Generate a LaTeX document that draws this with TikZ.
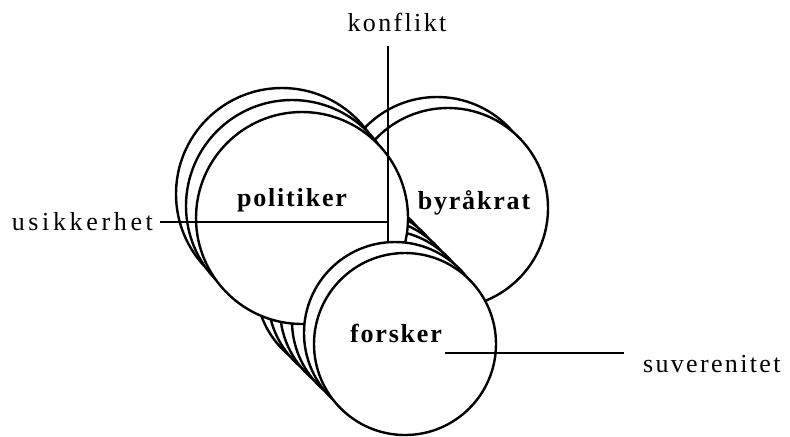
\documentclass[tikz,border=0pt]{standalone}
\usepackage{fontspec}
\setmainfont{Liberation Serif}
\usetikzlibrary{positioning}

\begin{document}
\begin{tikzpicture}[x=0.5pt,y=-0.5pt,
      ring/.style={draw=black,line width=1.2pt,fill=white},
      rolle/.style={font=\fontsize{13}{15}\selectfont\bfseries\addfontfeatures{LetterSpace=7}},
      tema/.style={font=\fontsize{13}{15}\selectfont\addfontfeatures{LetterSpace=9}},
      strek/.style={line width=1.2pt}]
    \useasboundingbox (0,0) rectangle (790,436);
    % byråkrat-bunken
    \foreach \k in {1,0}
      \draw[ring] ({448-11*\k},{208-11*\k}) circle (100);
    % forskerne bak
    \foreach \k in {5,4,3,2}
      \draw[ring] ({395-12*(\k-1)},{333-12*(\k-1)}) circle (91);
    % politiker-bunken
    \foreach \k in {2,1,0}
      \draw[ring] ({302-10*\k},{218-12*\k}) circle (106);
    \node[tema] (kon) at (397,22) {konflikt};
    \node[tema,anchor=east,
          font=\fontsize{13}{15}\selectfont\addfontfeatures{LetterSpace=14}] (usi) at (160,222) {usikkerhet};
    \coordinate (kfot) at (388,243);
    \draw[strek] ([yshift=-4pt]kon.south -| kfot) -- (kfot);
    \draw[strek] (usi.east) -- (usi.east -| kfot);
    % forskerne foran
    \draw[ring] (395,333) circle (91);
    \draw[ring] (405,344) circle (91);
    \node[tema,anchor=base west] (suv) at (636,372) {suverenitet};
    \coordinate (sfot) at (445,353);
    \draw[strek] (sfot) -- ([xshift=-6pt]sfot -| suv.west);
    \node[rolle] (tpol) at (292,200) {politiker};
    \node[rolle] (tbyr) at (474,203) {byråkrat};
    \node[rolle] (tfor) at (396,333) {forsker};
  \end{tikzpicture}
\end{document}
